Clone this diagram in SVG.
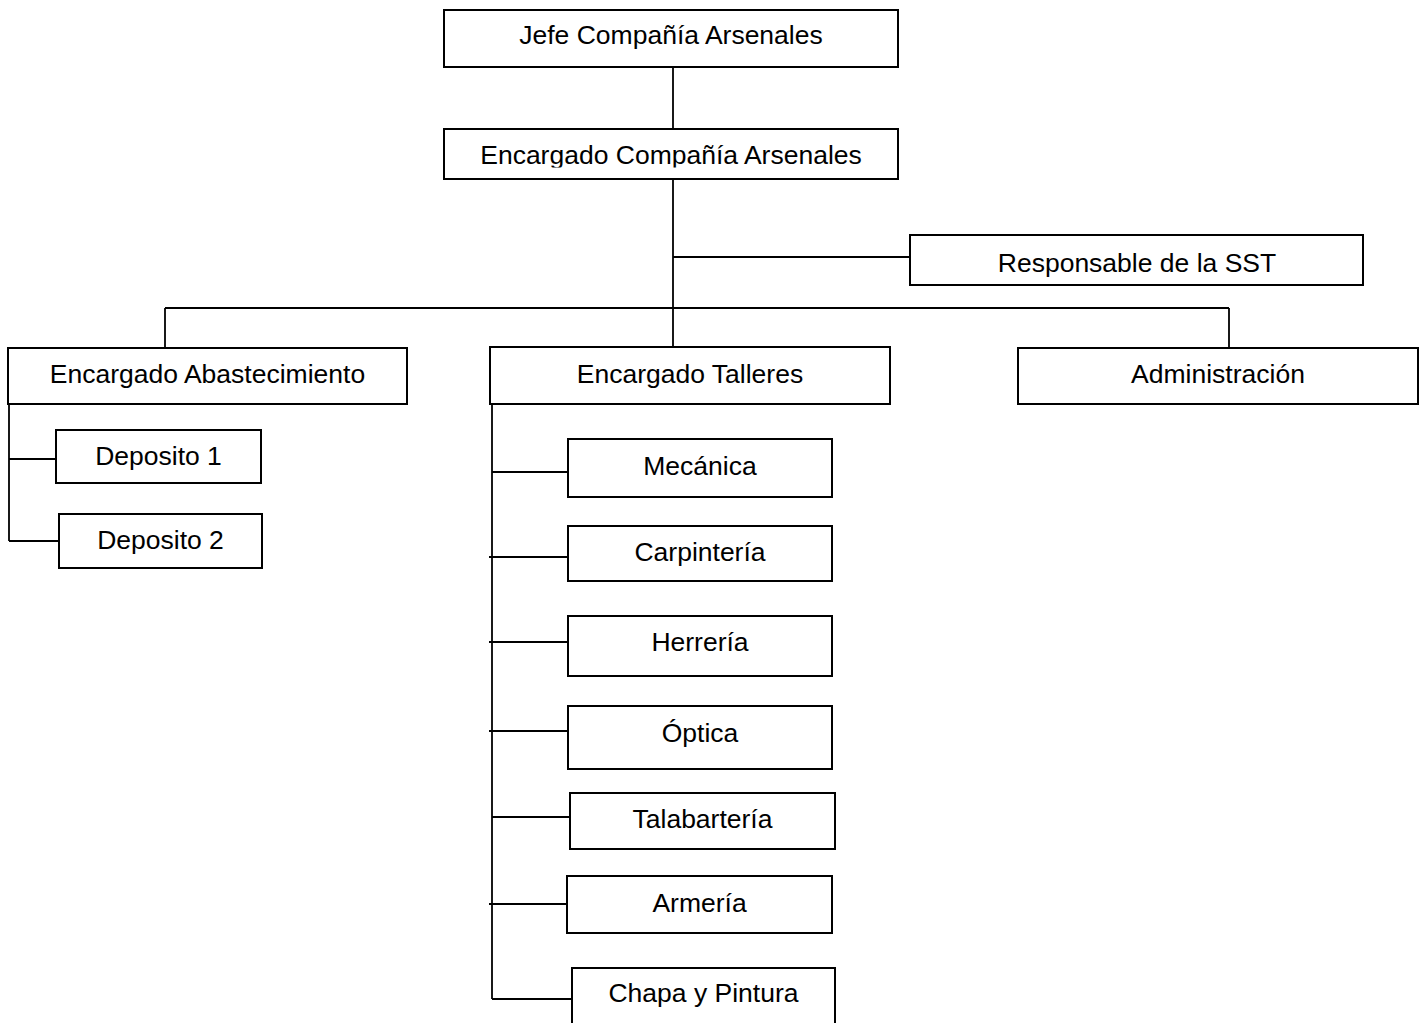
<svg xmlns="http://www.w3.org/2000/svg" width="1424" height="1023" viewBox="0 0 1424 1023">
<style>
.box{fill:#fff;stroke:#000;stroke-width:2}
.lbl{font-family:"Liberation Sans",Arial,sans-serif;font-size:26.5px;fill:#000;text-anchor:middle}
.ln{stroke:#000;stroke-width:1.8;fill:none}
</style>
<defs>
<clipPath id="clipEnc"><rect x="444" y="129" width="454" height="38.5"/></clipPath>
</defs>
<rect width="1424" height="1023" fill="#fff"/>
<g id="connectors">
<line class="ln" x1="673" y1="67" x2="673" y2="129"/>
<line class="ln" x1="673" y1="179" x2="673" y2="347"/>
<line class="ln" x1="673" y1="257" x2="910" y2="257"/>
<line class="ln" x1="165" y1="308" x2="1229" y2="308"/>
<line class="ln" x1="165" y1="308" x2="165" y2="348"/>
<line class="ln" x1="1229" y1="308" x2="1229" y2="348"/>
<line class="ln" x1="9" y1="404" x2="9" y2="541"/>
<line class="ln" x1="9" y1="459" x2="56" y2="459"/>
<line class="ln" x1="9" y1="541" x2="59" y2="541"/>
<line class="ln" x1="492" y1="404" x2="492" y2="999"/>
<line class="ln" x1="492" y1="472" x2="568" y2="472"/>
<line class="ln" x1="489" y1="557" x2="568" y2="557"/>
<line class="ln" x1="489" y1="642" x2="568" y2="642"/>
<line class="ln" x1="489" y1="731" x2="568" y2="731"/>
<line class="ln" x1="492" y1="817" x2="570" y2="817"/>
<line class="ln" x1="489" y1="904" x2="567" y2="904"/>
<line class="ln" x1="492" y1="999" x2="572" y2="999"/>
</g>
<g id="jefe"><rect class="box" x="444" y="10" width="454" height="57"/><text class="lbl" x="671" y="44">Jefe Compañía Arsenales</text></g>
<g id="encargado"><rect class="box" x="444" y="129" width="454" height="50"/><text class="lbl" x="671" y="164" clip-path="url(#clipEnc)">Encargado Compañía Arsenales</text></g>
<g id="sst"><rect class="box" x="910" y="235" width="453" height="50"/><text class="lbl" x="1137" y="272">Responsable de la SST</text></g>
<g id="abastecimiento"><rect class="box" x="8" y="348" width="399" height="56"/><text class="lbl" x="207.5" y="383">Encargado Abastecimiento</text></g>
<g id="talleres"><rect class="box" x="490" y="347" width="400" height="57"/><text class="lbl" x="690" y="383">Encargado Talleres</text></g>
<g id="administracion"><rect class="box" x="1018" y="348" width="400" height="56"/><text class="lbl" x="1218" y="383">Administración</text></g>
<g id="deposito1"><rect class="box" x="56" y="430" width="205" height="53"/><text class="lbl" x="158.5" y="465">Deposito 1</text></g>
<g id="deposito2"><rect class="box" x="59" y="514" width="203" height="54"/><text class="lbl" x="160.5" y="549">Deposito 2</text></g>
<g id="mecanica"><rect class="box" x="568" y="439" width="264" height="58"/><text class="lbl" x="700" y="475">Mecánica</text></g>
<g id="carpinteria"><rect class="box" x="568" y="526" width="264" height="55"/><text class="lbl" x="700" y="561">Carpintería</text></g>
<g id="herreria"><rect class="box" x="568" y="616" width="264" height="60"/><text class="lbl" x="700" y="651">Herrería</text></g>
<g id="optica"><rect class="box" x="568" y="706" width="264" height="63"/><text class="lbl" x="700" y="742">Óptica</text></g>
<g id="talabarteria"><rect class="box" x="570" y="793" width="265" height="56"/><text class="lbl" x="702.5" y="828">Talabartería</text></g>
<g id="armeria"><rect class="box" x="567" y="876" width="265" height="57"/><text class="lbl" x="699.5" y="912">Armería</text></g>
<g id="chapa"><rect class="box" x="572" y="968" width="263" height="70"/><text class="lbl" x="703.5" y="1002">Chapa y Pintura</text></g>
</svg>
